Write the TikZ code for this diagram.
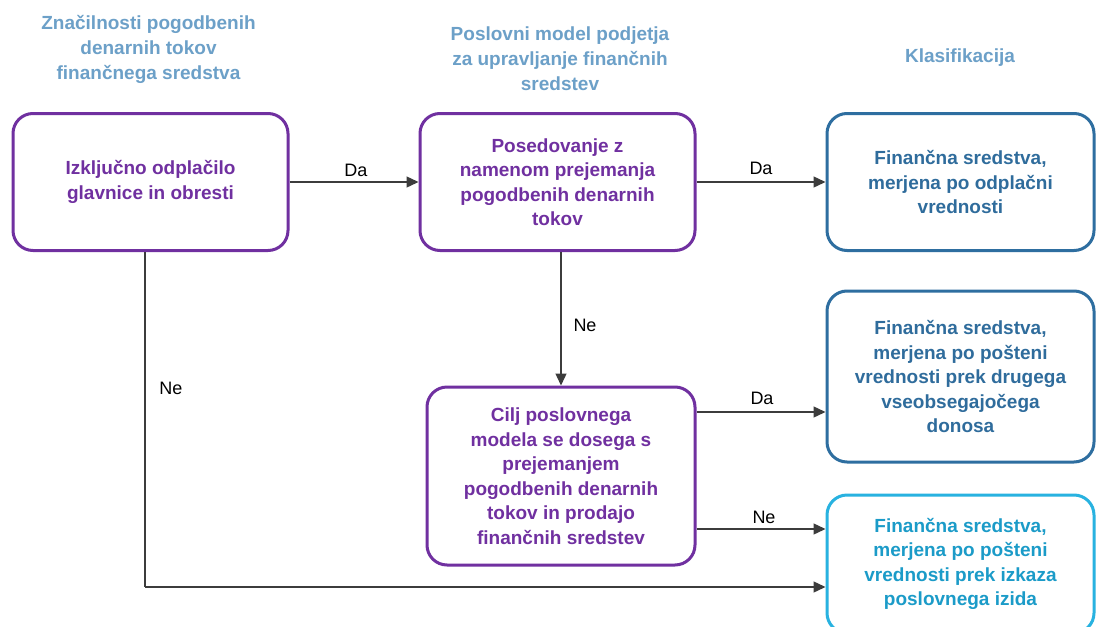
\documentclass[tikz,border=0pt]{standalone}
\usepackage{fontspec}
\setmainfont{Liberation Sans}
\usetikzlibrary{arrows.meta}

\definecolor{headblue}{RGB}{108,160,200}
\definecolor{boxpurple}{RGB}{112,48,160}
\definecolor{boxblue}{RGB}{46,110,160}
\definecolor{txtblue}{RGB}{47,108,156}
\definecolor{boxcyan}{RGB}{40,178,224}
\definecolor{txtcyan}{RGB}{27,155,200}
\definecolor{linegray}{RGB}{60,60,60}

\tikzset{
  header/.style={text=headblue, font=\fontsize{19}{25}\selectfont\bfseries, align=center},
  stepbox/.style={draw, line width=3pt, rounded corners=20pt, align=center,
    font=\fontsize{19}{24.5}\selectfont\bfseries, inner sep=0pt},
  decision/.style={stepbox, draw=boxpurple, text=boxpurple},
  outblue/.style={stepbox, draw=boxblue, text=txtblue},
  outcyan/.style={stepbox, draw=boxcyan, text=txtcyan},
  conn/.style={draw=linegray, line width=1.4pt, -{Triangle[length=12pt,width=11pt]}},
  plain/.style={draw=linegray, line width=1.4pt},
  lbl/.style={font=\fontsize{18}{22}\selectfont, text=black}
}

\begin{document}
\begin{tikzpicture}[x=1pt,y=-1pt]
  \useasboundingbox (0,0) rectangle (1096,627);
  \clip (0,0) rectangle (1096,627);
  \fill[white] (0,0) rectangle (1096,627);

  % column headers
  \node[header] (h1) at (148.5,49) {Značilnosti pogodbenih\\denarnih tokov\\finančnega sredstva};
  \node[header] (h2) at (560,59) {Poslovni model podjetja\\za upravljanje finančnih\\sredstev};
  \node[header] (h3) at (960,58) {Klasifikacija};

  % decision boxes
  \node[decision, minimum width=275pt, minimum height=137pt] (A) at (150.5,182)
    {Izključno odplačilo\\glavnice in obresti};
  \node[decision, minimum width=275pt, minimum height=137pt] (B) at (557.5,182)
    {Posedovanje z\\namenom prejemanja\\pogodbenih denarnih\\tokov};
  \node[decision, minimum width=268pt, minimum height=178pt] (D) at (561,476)
    {Cilj poslovnega\\modela se dosega s\\prejemanjem\\pogodbenih denarnih\\tokov in prodajo\\finančnih sredstev};

  % classification boxes
  \node[outblue, minimum width=267pt, minimum height=137pt] (C1) at (960.5,182)
    {Finančna sredstva,\\merjena po odplačni\\vrednosti};
  \node[outblue, minimum width=267pt, minimum height=171pt] (C2) at (960.5,376.5)
    {Finančna sredstva,\\merjena po pošteni\\vrednosti prek drugega\\vseobsegajočega\\donosa};
  \node[outcyan, minimum width=267pt, minimum height=138pt] (C3) at (960.5,564)
    {Finančna sredstva,\\merjena po pošteni\\vrednosti prek izkaza\\poslovnega izida};

  % connectors
  \draw[conn] (A.east) -- (B.west);
  \draw[conn] (B.east) -- (C1.west);
  \draw[conn] (B.south -| D.north) -- (D.north);
  \draw[conn] ([yshift=64pt]D.east) -- ([yshift=64pt]D.east -| C2.west);
  \draw[conn] ([yshift=-53pt]D.east) -- ([yshift=-53pt]D.east -| C3.west);
  \coordinate (bend) at (145,587);
  \draw[plain] (A.south -| bend) -- (bend);
  \draw[conn] (bend) -- (bend -| C3.west);

  % connector labels
  \node[lbl] (l1) at (356,170) {Da};
  \node[lbl] (l2) at (761,168) {Da};
  \node[lbl] (l3) at (585,325) {Ne};
  \node[lbl] (l4) at (762,398) {Da};
  \node[lbl] (l5) at (764,517) {Ne};
  \node[lbl] (l6) at (171,388) {Ne};
\end{tikzpicture}
\end{document}
